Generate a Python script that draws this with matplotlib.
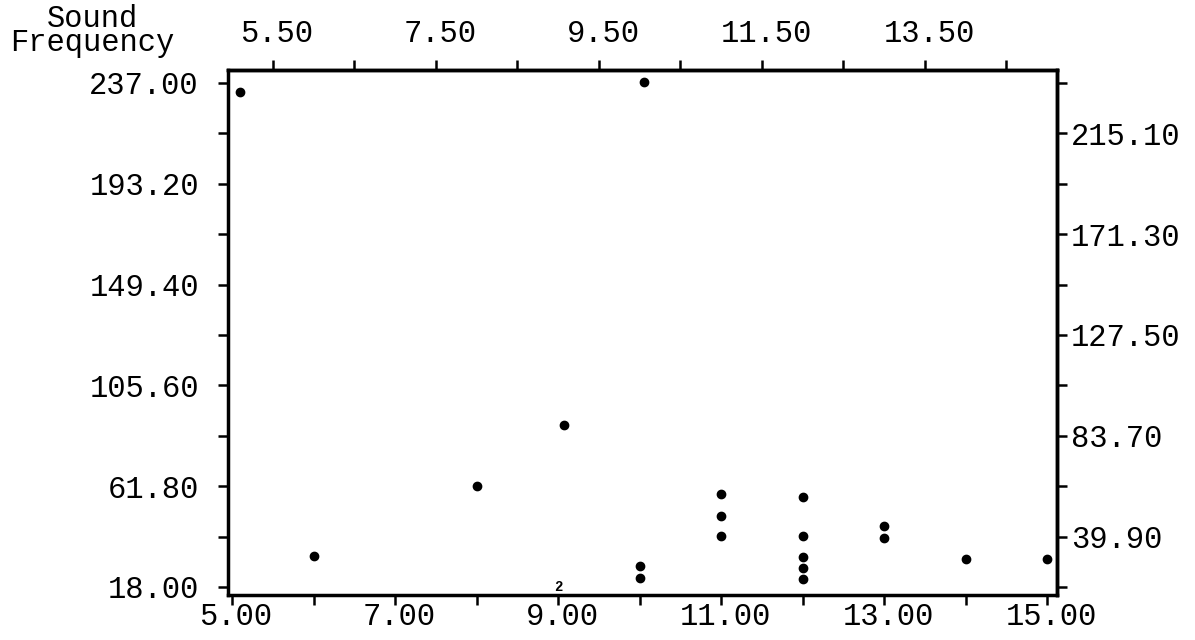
import matplotlib
matplotlib.use('Agg')
import matplotlib.pyplot as plt
import matplotlib.transforms as mtransforms

plt.rcParams['font.family'] = ['Liberation Mono', 'DejaVu Sans Mono']

# observations (x, sound frequency)
x_vals = [5.1, 10.05, 6.0, 8.0, 9.07, 10.0, 10.0,
          11.0, 11.0, 11.0,
          12.0, 12.0, 12.0, 12.0, 12.0,
          13.0, 13.0, 14.0, 15.0]
y_vals = [233.1, 237.3, 31.5, 61.9, 88.4, 27.1, 21.9,
          58.4, 48.9, 40.2,
          57.1, 40.2, 31.0, 26.3, 21.5,
          44.5, 39.3, 30.2, 30.2]

# overplotted points marked with a count
stack_x = [9.0]
stack_y = [17.8]
stack_n = ['2']

bottom_ticks = [5, 6, 7, 8, 9, 10, 11, 12, 13, 14, 15]
bottom_labels = ['5.00', '', '7.00', '', '9.00', '', '11.00', '', '13.00', '', '15.00']
top_ticks = [5.5, 6.5, 7.5, 8.5, 9.5, 10.5, 11.5, 12.5, 13.5, 14.5]
top_labels = ['5.50', '', '7.50', '', '9.50', '', '11.50', '', '13.50', '']
y_ticks = [18.0, 39.9, 61.8, 83.7, 105.6, 127.5, 149.4, 171.3, 193.2, 215.1, 237.0]
left_labels = ['18.00', '', '61.80', '', '105.60', '', '149.40', '', '193.20', '', '237.00']
right_labels = ['', '39.90', '', '83.70', '', '127.50', '', '171.30', '', '215.10', '']

fig = plt.figure(figsize=(11.95, 6.40), dpi=100)
ax = fig.add_axes([228 / 1195, 1 - 595 / 640, (1057 - 228) / 1195, (595 - 70) / 640])

ax.plot(x_vals, y_vals, 'o', color='black', markersize=6, linestyle='none')
for sx, sy, sn in zip(stack_x, stack_y, stack_n):
    ax.text(sx, sy, sn, fontsize=10, fontweight='bold', ha='center', va='center')

ax.set_xlim(4.95, 15.12)
ax.set_ylim(14.5, 242.6)

ax.set_xticks(bottom_ticks, labels=bottom_labels)
ax.set_yticks(y_ticks, labels=left_labels)
ax.tick_params(direction='out', length=7, width=1.8, labelsize=22)
ax.tick_params(axis='x', pad=-2)
ax.tick_params(axis='y', pad=14)

top = ax.secondary_xaxis('top')
top.set_xticks(top_ticks, labels=top_labels)
top.tick_params(direction='out', length=7, width=1.8, labelsize=22, pad=8)

right = ax.secondary_yaxis('right')
right.set_yticks(y_ticks, labels=right_labels)
right.tick_params(direction='out', length=7, width=1.8, labelsize=22, pad=3)

for a in (ax, top, right):
    for s in a.spines.values():
        s.set_linewidth(2.5)

shift = mtransforms.ScaledTranslation(4 / 100, 0, fig.dpi_scale_trans)
for lbl in ax.get_xticklabels() + top.get_xticklabels():
    lbl.set_transform(lbl.get_transform() + shift)

fig.text(92 / 1195, 1 - 4 / 640, 'Sound\nFrequency', fontsize=22,
         ha='center', va='top', multialignment='center', linespacing=0.72)

fig.savefig('out.png', dpi=100)
